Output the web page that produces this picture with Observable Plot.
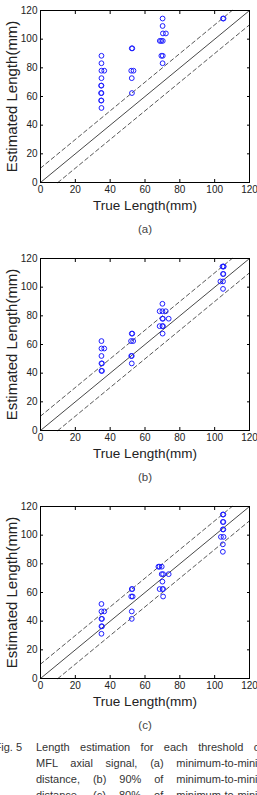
<!DOCTYPE html>
<html>
<head>
<meta charset="utf-8">
<script src="https://cdn.jsdelivr.net/npm/d3@7"></script>
<script src="https://cdn.jsdelivr.net/npm/@observablehq/plot@0.6"></script>
<style>
html, body { margin: 0; padding: 0; background: #fff; width: 257px; height: 795px; overflow: hidden; font-family: "Liberation Sans", Arial, sans-serif; }
#charts svg { display: block; }
#caption { position: absolute; left: 0; top: 739px; width: 257px; height: 56px; overflow: hidden; font-size: 11px; color: #333; }
#caption .ln { position: absolute; left: 36px; height: 16px; line-height: 16px; text-align: justify; text-align-last: justify; }
#caption .fig { position: absolute; left: -40px; width: 62px; text-align: right; height: 16px; line-height: 16px; }
</style>
</head>
<body>
<div id="charts"></div>
<div id="caption"></div>
<script>
// ---- data ----
const ticks = [0, 20, 40, 60, 80, 100, 120];
const tolerance = 10;
const axisMax = 120;
const xLabel = "True Length(mm)";
const yLabel = "Estimated Length(mm)";
const panelLabels = ["(a)", "(b)", "(c)"];

// (a) minimum-to-minimum distance
const trueA = [35, 35, 35, 36.6, 35, 35, 34.8, 35, 34.8, 35, 34.8, 35,
  52.4, 52.7, 52.1, 53.4, 52.4, 52.5,
  70.1, 70.1, 70.3, 72, 68.5, 69.3, 70.2, 69.4, 70.2, 70.1,
  104.8, 105.1];
const estA = [88.4, 83.2, 78, 78, 72.8, 67.6, 67.6, 62.4, 62.4, 57.2, 57.2, 52,
  93.6, 93.6, 78, 78, 72.8, 62.4,
  114.4, 109.2, 104, 104, 98.8, 98.8, 98.8, 88.4, 88.4, 83.2,
  114.4, 114.4];

// (b) 90% of minimum-to-minimum distance
const trueB = [35, 35, 36.6, 35, 35, 35.3, 35, 35.3,
  52.4, 52.7, 52, 53.2, 52.4, 52.1, 52.4,
  70, 68.4, 70, 71.9, 70, 70.3, 73.6, 68.4, 70, 70.3, 70.1,
  104.5, 105.2, 105, 104.8, 105, 103.3, 104.8, 104.8];
const estB = [62.4, 57.2, 57.2, 52, 46.8, 46.8, 41.6, 41.6,
  67.6, 67.6, 62.4, 62.4, 52, 52, 46.8,
  88.4, 83.2, 83.2, 83.2, 78, 78, 78, 72.8, 72.8, 72.8, 67.6,
  114.4, 114.4, 114.4, 109.2, 109.2, 104, 104, 98.8];

// (c) 80% of minimum-to-minimum distance
const trueC = [35, 35, 36.6, 35, 35.3, 35, 35.3, 35,
  52.4, 52.7, 52.1, 52.9, 52.4, 52.4,
  67.7, 68.3, 69.6, 69.6, 70.4, 73.6, 70, 68.4, 70.4, 70.1, 70.4,
  104.7, 105, 104.7, 105, 104.7, 105, 103.6, 105.1, 104.7, 104.7];
const estC = [52, 46.8, 46.8, 41.6, 41.6, 36.4, 36.4, 31.2,
  62.4, 62.4, 57.2, 57.2, 46.8, 41.6,
  78, 78, 78, 72.8, 72.8, 72.8, 67.6, 62.4, 62.4, 62.4, 57.2,
  114.4, 114.4, 109.2, 109.2, 104, 104, 98.8, 98.8, 93.6, 88.4];

const captionFig = "Fig. 5";
const captionLines = [
  "Length estimation for each threshold of",
  "MFL axial signal, (a) minimum-to-minimum",
  "distance, (b) 90% of minimum-to-minimum",
  "distance, (c) 80% of minimum-to-minimum"
];

// ---- reference lines built from tolerance ----
const identity = [{x: 0, y: 0}, {x: axisMax, y: axisMax}];
const upper = [{x: 0, y: tolerance}, {x: axisMax - tolerance, y: axisMax}];
const lower = [{x: tolerance, y: 0}, {x: axisMax, y: axisMax - tolerance}];

const font = "Liberation Sans, Arial, sans-serif";
const ink = "#222";

function panel(xs, ys, label) {
  const pts = xs.map((x, i) => ({x, y: ys[i]}));
  return Plot.plot({
    width: 257,
    height: 248,
    marginLeft: 40,
    marginRight: 8,
    marginTop: 10,
    marginBottom: 66,
    style: {fontFamily: font, color: ink, background: "#fff", overflow: "visible"},
    x: {domain: [0, axisMax]},
    y: {domain: [0, axisMax]},
    marks: [
      Plot.line(identity, {x: "x", y: "y", stroke: "#333", strokeWidth: 0.9}),
      Plot.line(upper, {x: "x", y: "y", stroke: "#444", strokeWidth: 0.9, strokeDasharray: "4,3"}),
      Plot.line(lower, {x: "x", y: "y", stroke: "#444", strokeWidth: 0.9, strokeDasharray: "4,3"}),
      Plot.dot(pts, {x: "x", y: "y", r: 2.4, stroke: "#1f1fff", strokeWidth: 1, fill: "none"}),
      // tick labels
      Plot.axisX({ticks, tickSize: 0, tickPadding: 3, fontSize: 10, label: null}),
      Plot.axisY({ticks, tickSize: 0, tickPadding: 3, fontSize: 10, label: null}),
      // inward ticks on all four sides
      Plot.axisX({ticks, anchor: "bottom", text: null, tickSize: 3, dy: -3, label: null, stroke: "#000"}),
      Plot.axisX({ticks, anchor: "top", text: null, tickSize: 3, dy: 3, label: null, stroke: "#000"}),
      Plot.axisY({ticks, anchor: "left", text: null, tickSize: 3, dx: 3, label: null, stroke: "#000"}),
      Plot.axisY({ticks, anchor: "right", text: null, tickSize: 3, dx: -3, label: null, stroke: "#000"}),
      Plot.frame({stroke: "#000", strokeWidth: 1}),
      // axis titles and panel caption
      Plot.text([xLabel], {text: d => d, frameAnchor: "bottom", textAnchor: "middle", lineAnchor: "middle", dy: 23, fontSize: 13.5, fill: ink}),
      Plot.text([yLabel], {text: d => d, frameAnchor: "left", textAnchor: "middle", lineAnchor: "middle", rotate: -90, dx: -28, fontSize: 15, fill: ink}),
      Plot.text([label], {text: d => d, frameAnchor: "bottom", textAnchor: "middle", lineAnchor: "middle", dy: 47, fontSize: 11.5, fill: "#444"})
    ]
  });
}

const charts = document.getElementById("charts");
charts.appendChild(panel(trueA, estA, panelLabels[0]));
charts.appendChild(panel(trueB, estB, panelLabels[1]));
charts.appendChild(panel(trueC, estC, panelLabels[2]));

// caption
const cap = document.getElementById("caption");
const fig = document.createElement("div");
fig.className = "fig";
fig.style.top = "0px";
fig.textContent = captionFig;
cap.appendChild(fig);
const widths = [227, 246, 246, 246];
captionLines.forEach((t, i) => {
  const d = document.createElement("div");
  d.className = "ln";
  d.style.top = (i * 16) + "px";
  d.style.width = widths[i] + "px";
  d.textContent = t;
  cap.appendChild(d);
});
</script>
</body>
</html>
